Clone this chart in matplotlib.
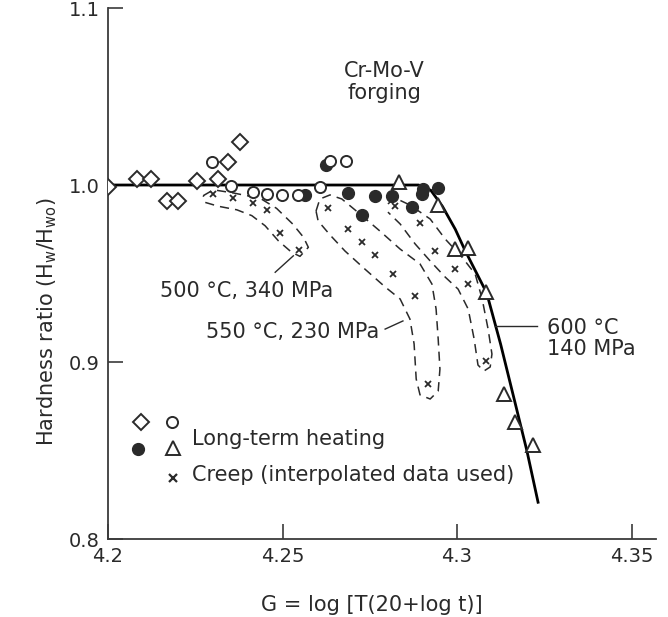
import numpy as np
import matplotlib.pyplot as plt

plt.rcParams['font.family'] = ['DejaVu Sans']

ink = '#2a2a2a'

# long-term heating: open diamonds, open circles, filled circles, open triangles
diamond_g = [4.2000, 4.2084, 4.2122, 4.2168, 4.2201, 4.2256, 4.2316, 4.2345, 4.2378]
diamond_h = [0.9990, 1.0034, 1.0034, 0.9911, 0.9911, 1.0021, 1.0034, 1.0128, 1.0245]

ocirc_g = [4.2297, 4.2352, 4.2416, 4.2455, 4.2498, 4.2545, 4.2607, 4.2636, 4.2682]
ocirc_h = [1.0128, 0.9996, 0.9959, 0.9949, 0.9944, 0.9944, 0.9987, 1.0137, 1.0137]

fcirc_g = [4.2564, 4.2625, 4.2689, 4.2727, 4.2765, 4.2813, 4.2870, 4.2899, 4.2903, 4.2946]
fcirc_h = [0.9944, 1.0113, 0.9955, 0.9831, 0.9936, 0.9936, 0.9874, 0.9949, 0.9977, 0.9983]

tri_g = [4.2835, 4.2946, 4.2994, 4.3030, 4.3083, 4.3135, 4.3166, 4.3219]
tri_h = [1.0015, 0.9887, 0.9638, 0.9642, 0.9394, 0.8819, 0.8659, 0.8531]

# creep (interpolated), three test conditions
creep500_g = [4.2300, 4.2357, 4.2415, 4.2455, 4.2494, 4.2547]
creep500_h = [0.9949, 0.9927, 0.9898, 0.9860, 0.9729, 0.9634]
creep550_g = [4.2630, 4.2687, 4.2729, 4.2765, 4.2817, 4.2879, 4.2916]
creep550_h = [0.9868, 0.9751, 0.9676, 0.9605, 0.9500, 0.9373, 0.8876]
creep600_g = [4.2822, 4.2895, 4.2938, 4.2994, 4.3031, 4.3083]
creep600_h = [0.9880, 0.9785, 0.9629, 0.9525, 0.9438, 0.9007]

# master curve (600 C, 140 MPa)
curve_g = [4.2000, 4.2890, 4.2925, 4.2958, 4.2995, 4.3023, 4.3085, 4.3125, 4.3165, 4.3200, 4.3233]
curve_h = [1.0000, 1.0000, 0.9970, 0.9880, 0.9750, 0.9630, 0.9390, 0.9100, 0.8780, 0.8500, 0.8200]

# dashed envelopes around the creep groups
env500_g = [4.2273, 4.2302, 4.2359, 4.2436, 4.2483, 4.2529, 4.2560, 4.2574, 4.2550, 4.2526,
            4.2488, 4.2450, 4.2412, 4.2369, 4.2316, 4.2278, 4.2273]
env500_h = [0.9940, 0.9973, 0.9955, 0.9925, 0.9868, 0.9780, 0.9705, 0.9648, 0.9597, 0.9620,
            0.9685, 0.9770, 0.9827, 0.9860, 0.9880, 0.9902, 0.9940]
env550_g = [4.2596, 4.2607, 4.2636, 4.2670, 4.2722, 4.2779, 4.2837, 4.2894, 4.2928, 4.2940,
            4.2946, 4.2951, 4.2946, 4.2923, 4.2894, 4.2883, 4.2877, 4.2865, 4.2837, 4.2794,
            4.2736, 4.2679, 4.2636, 4.2602, 4.2596]
env550_h = [0.9853, 0.9921, 0.9944, 0.9921, 0.9836, 0.9740, 0.9638, 0.9554, 0.9441, 0.9299,
            0.9130, 0.8960, 0.8836, 0.8791, 0.8814, 0.8904, 0.9102, 0.9243, 0.9356, 0.9424,
            0.9525, 0.9627, 0.9718, 0.9797, 0.9853]
env600_g = [4.2802, 4.2822, 4.2865, 4.2923, 4.2966, 4.3014, 4.3052, 4.3072, 4.3089, 4.3100,
            4.3095, 4.3077, 4.3060, 4.3049, 4.3032, 4.3003, 4.2966, 4.2923, 4.2880, 4.2837,
            4.2802]
env600_h = [0.9893, 0.9927, 0.9887, 0.9808, 0.9695, 0.9593, 0.9497, 0.9356, 0.9186, 0.9045,
            0.8972, 0.8949, 0.8983, 0.9130, 0.9299, 0.9412, 0.9480, 0.9571, 0.9667, 0.9780,
            0.9847]

xticks = [4.2, 4.25, 4.3, 4.35]
xtick_labels = ['4.2', '4.25', '4.3', '4.35']
yticks = [0.8, 0.9, 1.0, 1.1]
ytick_labels = ['0.8', '0.9', '1.0', '1.1']

fig = plt.figure(figsize=(6.68, 6.17), dpi=100)
ax = fig.add_axes([0.1617, 0.1264, 0.8203, 0.8606])

ax.plot(curve_g, curve_h, color='black', lw=2.0, zorder=2, solid_capstyle='butt')

for eg, eh in [(env500_g, env500_h), (env550_g, env550_h), (env600_g, env600_h)]:
    ax.plot(eg, eh, color=ink, lw=1.1, ls=(0, (6, 4)), zorder=2)

ax.plot(fcirc_g, fcirc_h, ls='none', marker='o', ms=8.5, mfc=ink, mec=ink, zorder=3)
ax.plot(ocirc_g, ocirc_h, ls='none', marker='o', ms=8, mfc='white', mec=ink, mew=1.4, zorder=4)
ax.plot(diamond_g, diamond_h, ls='none', marker='D', ms=8.5, mfc='white', mec=ink, mew=1.4, zorder=4)
ax.plot(tri_g, tri_h, ls='none', marker='^', ms=9.5, mfc='white', mec=ink, mew=1.4, zorder=4)
for cg, ch in [(creep500_g, creep500_h), (creep550_g, creep550_h), (creep600_g, creep600_h)]:
    ax.plot(cg, ch, ls='none', marker='x', ms=5, mec=ink, mew=1.3, zorder=5)

# annotations
tkw = dict(fontsize=15, color=ink)
ax.text(4.2791, 1.0582, 'Cr-Mo-V\nforging', ha='center', va='center', linespacing=1.15, **tkw)
ax.text(4.2645, 0.9400, '500 °C, 340 MPa', ha='right', va='center', **tkw)
ax.plot([4.2479, 4.2531], [0.9507, 0.9600], color=ink, lw=1.0)
ax.text(4.2777, 0.9170, '550 °C, 230 MPa', ha='right', va='center', **tkw)
ax.plot([4.2794, 4.2845], [0.9186, 0.9232], color=ink, lw=1.0)
ax.text(4.3258, 0.9133, '600 °C\n140 MPa', ha='left', va='center', linespacing=1.1, **tkw)
ax.plot([4.3109, 4.3229], [0.9203, 0.9203], color=ink, lw=1.0)

# legend block
lt = ax.transAxes
ax.plot([0.0597], [0.2209], transform=lt, marker='D', ms=8.5, mfc='white', mec=ink, mew=1.4, ls='none')
ax.plot([0.1162], [0.2209], transform=lt, marker='o', ms=8, mfc='white', mec=ink, mew=1.4, ls='none')
ax.plot([0.0553], [0.1689], transform=lt, marker='o', ms=8.5, mfc=ink, mec=ink, ls='none')
ax.plot([0.1181], [0.1708], transform=lt, marker='^', ms=9.5, mfc='white', mec=ink, mew=1.4, ls='none')
ax.plot([0.1192], [0.1143], transform=lt, marker='x', ms=6, mec=ink, mew=1.6, ls='none')
ax.text(0.1527, 0.177, 'Long-term heating', transform=lt, ha='left', va='baseline', **tkw)
ax.text(0.1527, 0.109, 'Creep (interpolated data used)', transform=lt, ha='left', va='baseline', **tkw)

ax.set_xlim(4.2, 4.357)
ax.set_ylim(0.8, 1.1)
ax.set_xticks(xticks)
ax.set_xticklabels(xtick_labels)
ax.set_yticks(yticks)
ax.set_yticklabels(ytick_labels)
ax.tick_params(direction='in', length=11, width=1.1, labelsize=14, colors=ink, pad=6)
for side in ['top', 'right']:
    ax.spines[side].set_visible(False)
for side in ['left', 'bottom']:
    ax.spines[side].set_linewidth(1.3)
    ax.spines[side].set_color('#3a3a3a')

ax.set_xlabel('G = log [T(20+log t)]', fontsize=15, color=ink)
ax.xaxis.set_label_coords(0.482, -0.105)
ax.set_ylabel(r'Hardness ratio (H$_\mathregular{w}$/H$_\mathregular{wo}$)', fontsize=15, color=ink)
ax.yaxis.set_label_coords(-0.09, 0.41)

fig.savefig('out.png', dpi=100)
